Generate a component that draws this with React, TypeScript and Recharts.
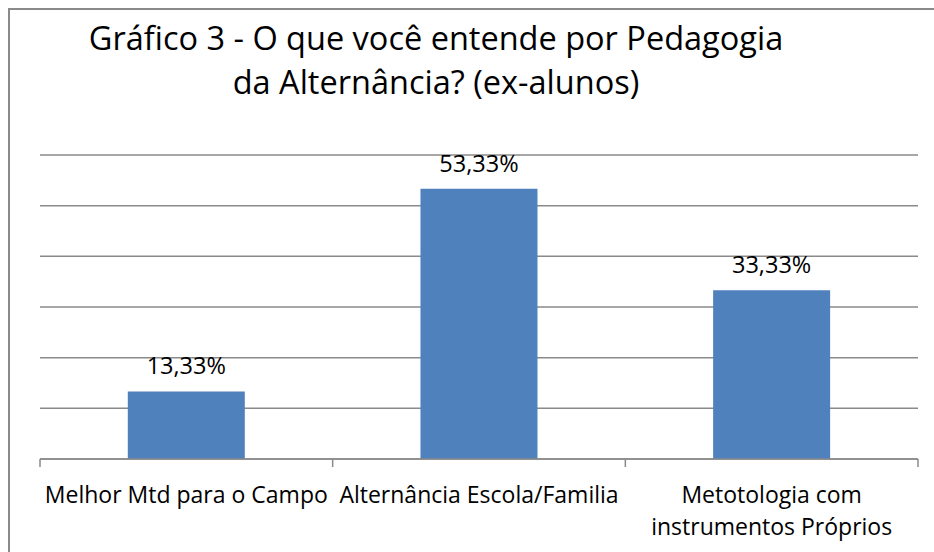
import React from 'react';
import { BarChart, Bar, XAxis, YAxis, CartesianGrid, LabelList } from 'recharts';

// values (percent of ex-alunos)
const categories = [
  'Melhor Mtd para o Campo',
  'Alternância Escola/Familia',
  'Metotologia com\ninstrumentos Próprios',
];
const percentages = [13.33, 53.33, 33.33];
const yTicks = [0, 10, 20, 30, 40, 50, 60];
const titleLines = ['Gráfico 3 - O que você entende por Pedagogia', 'da Alternância? (ex-alunos)'];

const data = categories.map((name, i) => ({ name, value: percentages[i] }));

const FONT = '"Open Sans", sans-serif';
const GRID = '#8a8a8a';

// category label + Excel-style tick marks on the band edges
const CategoryTick = (props: any) => {
  const { x, y, payload, index, visibleTicksCount } = props;
  const half = payload && payload.offset ? payload.offset : 0;
  const lines = String(payload.value).split('\n');
  const last = index === visibleTicksCount - 1;
  return (
    <g>
      {half > 0 && <line x1={x - half} x2={x - half} y1={y} y2={y + 8} stroke={GRID} strokeWidth={1.5} />}
      {half > 0 && last && <line x1={x + half} x2={x + half} y1={y} y2={y + 8} stroke={GRID} strokeWidth={1.5} />}
      <text x={x} y={y} textAnchor="middle" fontFamily={FONT} fontSize={23} fill="#000">
        {lines.map((line, i) => (
          <tspan key={i} x={x} dy={i === 0 ? 44 : 32}>{line}</tspan>
        ))}
      </text>
    </g>
  );
};

const fmt = (v: any) => Number(v).toFixed(2).replace('.', ',') + '%';

export default function App() {
  return (
    <div style={{ position: 'absolute', left: 0, top: 0, width: 934, height: 552, background: '#fff', overflow: 'hidden' }}>
      <div style={{ position: 'absolute', left: 8, top: 8, width: 940, height: 560, borderLeft: `2px solid ${GRID}`, borderTop: `2px solid ${GRID}` }} />
      <div style={{ position: 'absolute', left: 0, top: 15.5, width: 872, textAlign: 'center', fontFamily: FONT, fontSize: 32.5, lineHeight: '44px', color: '#000' }}>
        {titleLines.map((l) => <div key={l}>{l}</div>)}
      </div>
      <BarChart width={934} height={552} data={data} margin={{ top: 155, right: 16, bottom: 33, left: 40 }} barCategoryGap="30%">
        <CartesianGrid horizontal vertical={false} stroke={GRID} strokeWidth={1.5} />
        <YAxis hide domain={[0, 60]} ticks={yTicks} />
        <XAxis dataKey="name" height={60} tickLine={false} tickSize={0} tickMargin={0}
          axisLine={{ stroke: GRID, strokeWidth: 1.5 }} tick={<CategoryTick />} interval={0} />
        <Bar dataKey="value" fill="#4F81BD" isAnimationActive={false}>
          <LabelList dataKey="value" position="top" offset={17} formatter={fmt} fontFamily={FONT} fontSize={23.5} fill="#000" />
        </Bar>
      </BarChart>
    </div>
  );
}
